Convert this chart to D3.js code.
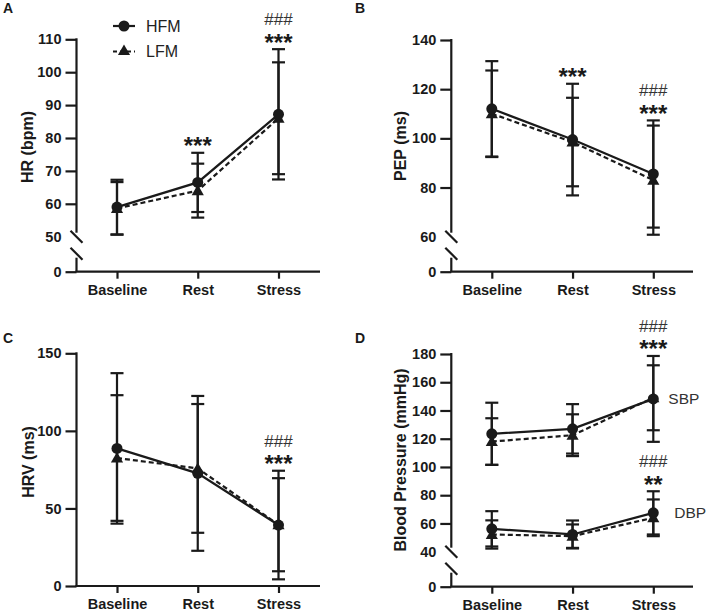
<!DOCTYPE html>
<html><head><meta charset="utf-8">
<script src="https://cdn.jsdelivr.net/npm/d3@7"></script>
<style>
body{margin:0;background:#fff;}
svg{display:block;font-family:"Liberation Sans",Arial,sans-serif;}
</style></head>
<body><svg id="c" width="706" height="615"></svg>
<script>
// ---- data ----
const categories = ["Baseline", "Rest", "Stress"];
const seriesNames = ["HFM", "LFM"];

const hrTicks = [50, 60, 70, 80, 90, 100, 110];
const hrHFM = [59, 66.5, 87.2];
const hrHFMsd = [8.3, 9, 19.8];
const hrLFM = [58.6, 64, 86];
const hrLFMsd = [8, 8.2, 17];
const hrStars = ["", "***", "***"];
const hrHash = ["", "", "###"];

const pepTicks = [60, 80, 100, 120, 140];
const pepHFM = [112, 99.5, 85.5];
const pepHFMsd = [19.4, 22.7, 21.8];
const pepLFM = [110, 98.5, 83];
const pepLFMsd = [17.6, 18, 22.2];
const pepStars = ["", "***", "***"];
const pepHash = ["", "", "###"];

const hrvTicks = [0, 50, 100, 150];
const hrvHFM = [88.7, 72.6, 39.3];
const hrvHFMsd = [48.5, 49.9, 35];
const hrvLFM = [82.5, 75.8, 39.5];
const hrvLFMsd = [40.5, 41.5, 30];
const hrvStars = ["", "", "***"];
const hrvHash = ["", "", "###"];

const bpTicks = [40, 60, 80, 100, 120, 140, 160, 180];
const sbpHFM = [123.5, 127, 148.2];
const sbpHFMsd = [22, 17.5, 30.4];
const sbpLFM = [118, 122.5, 149];
const sbpLFMsd = [16.5, 14.8, 23];
const sbpStars = ["", "", "***"];
const sbpHash = ["", "", "###"];
const dbpHFM = [56.2, 52.2, 67.5];
const dbpHFMsd = [12.5, 9.9, 15.3];
const dbpLFM = [52.2, 51, 64];
const dbpLFMsd = [10, 8.3, 13];
const dbpStars = ["", "", "**"];
const dbpHash = ["", "", "###"];

// ---- drawing ----
const svg = d3.select("#c");
const INK = "#1a1a1a";
const SW = 2.2;
const FONT = "Liberation Sans, Arial, sans-serif";
const tri = d3.symbol().type(d3.symbolTriangle).size(64);

function styleAxis(sel) {
  sel.select(".domain").remove();
  sel.selectAll("text").attr("font-size", 14.5).attr("font-weight", "bold").attr("fill", INK).attr("font-family", FONT);
  sel.selectAll("line").attr("stroke", INK).attr("stroke-width", SW);
}

function panel(cfg) {
  const g = svg.append("g");
  const x = d3.scalePoint().domain(categories).range([cfg.ax + 40.5, cfg.ax + 202]);
  const y = d3.scaleLinear().domain([cfg.ticks[0], cfg.ticks[cfg.ticks.length - 1]])
    .range([cfg.brk ? cfg.zero - 35 : cfg.zero, cfg.top]);

  const ya = g.append("g").attr("transform", `translate(${cfg.ax},0)`)
    .call(d3.axisLeft(y).tickValues(cfg.ticks).tickSize(11).tickPadding(4).tickSizeOuter(0).tickFormat(d3.format("d")));
  styleAxis(ya);
  if (cfg.brk) {
    ya.selectAll(".tick").filter(d => d === cfg.ticks[0]).select("line").remove();
    const yl = d3.scaleLinear().domain([0, 1]).range([cfg.zero, cfg.zero - 18]);
    const yb = g.append("g").attr("transform", `translate(${cfg.ax},0)`)
      .call(d3.axisLeft(yl).tickValues([0]).tickSize(11).tickPadding(4).tickSizeOuter(0).tickFormat(d3.format("d")));
    styleAxis(yb);
    const up = cfg.zero - 35, lo = cfg.zero - 18;
    g.append("line").attr("x1", cfg.ax).attr("x2", cfg.ax).attr("y1", cfg.top - 1).attr("y2", up - 4)
      .attr("stroke", INK).attr("stroke-width", SW);
    g.append("line").attr("x1", cfg.ax).attr("x2", cfg.ax).attr("y1", lo + 4).attr("y2", cfg.zero)
      .attr("stroke", INK).attr("stroke-width", SW);
    [up, lo].forEach(c => g.append("line").attr("x1", cfg.ax - 6).attr("y1", c - 6).attr("x2", cfg.ax + 6).attr("y2", c + 6)
      .attr("stroke", INK).attr("stroke-width", SW));
  } else {
    g.append("line").attr("x1", cfg.ax).attr("x2", cfg.ax).attr("y1", cfg.top - 1).attr("y2", cfg.zero)
      .attr("stroke", INK).attr("stroke-width", SW);
  }

  const xa = g.append("g").attr("transform", `translate(0,${cfg.zero})`)
    .call(d3.axisBottom(x).tickSize(7).tickPadding(6).tickSizeOuter(0));
  styleAxis(xa);
  g.append("line").attr("x1", cfg.ax - 1).attr("x2", cfg.xEnd).attr("y1", cfg.zero).attr("y2", cfg.zero)
    .attr("stroke", INK).attr("stroke-width", SW);

  g.append("text").attr("transform", `translate(${cfg.tx},${cfg.ty}) rotate(-90)`)
    .attr("text-anchor", "middle").attr("dy", "0.35em").attr("font-size", 16).attr("font-weight", "bold")
    .attr("fill", INK).text(cfg.title);

  g.append("text").attr("x", cfg.lx).attr("y", cfg.ly).attr("font-size", 14).attr("font-weight", "bold")
    .attr("fill", INK).text(cfg.letter);

  cfg.groups.forEach(gr => {
    const sets = [
      { m: gr.h, s: gr.hs, dash: null, mk: "circle" },
      { m: gr.l, s: gr.ls, dash: "5,3", mk: "tri" }
    ];
    sets.forEach(st => {
      categories.forEach((c, i) => {
        const cx = x(c), t = y(st.m[i] + st.s[i]), b = y(st.m[i] - st.s[i]);
        g.append("line").attr("x1", cx).attr("x2", cx).attr("y1", t).attr("y2", b).attr("stroke", INK).attr("stroke-width", SW);
        [t, b].forEach(yy => g.append("line").attr("x1", cx - 6.5).attr("x2", cx + 6.5).attr("y1", yy).attr("y2", yy)
          .attr("stroke", INK).attr("stroke-width", SW));
      });
    });
    sets.slice().reverse().forEach(st => {
      const ln = d3.line().x((d, i) => x(categories[i])).y(d => y(d));
      g.append("path").attr("d", ln(st.m)).attr("fill", "none").attr("stroke", INK).attr("stroke-width", SW)
        .attr("stroke-dasharray", st.dash);
    });
    sets.slice().reverse().forEach(st => {
      categories.forEach((c, i) => {
        if (st.mk === "circle") g.append("circle").attr("cx", x(c)).attr("cy", y(st.m[i])).attr("r", 5.5).attr("fill", INK);
        else g.append("path").attr("d", tri).attr("transform", `translate(${x(c)},${y(st.m[i]) + 1})`).attr("fill", INK);
      });
    });
    categories.forEach((c, i) => {
      if (!gr.stars[i] && !gr.hash[i]) return;
      const top = Math.min(y(gr.h[i] + gr.hs[i]), y(gr.l[i] + gr.ls[i]));
      const sc = top - 12;
      if (gr.stars[i]) g.append("text").attr("x", x(c)).attr("y", sc + 13.5).attr("text-anchor", "middle")
        .attr("font-size", 24).attr("font-weight", "bold").attr("fill", INK).text(gr.stars[i]);
      if (gr.hash[i]) g.append("text").attr("x", x(c)).attr("y", sc - 18 + 6).attr("text-anchor", "middle")
        .attr("font-size", 17).attr("fill", "#333").text(gr.hash[i]);
    });
    if (gr.label) {
      g.append("text").attr("x", x("Stress") + gr.labelDx).attr("y", y(gr.h[2])).attr("dy", "0.35em")
        .attr("font-size", 15.5).attr("fill", "#333").text(gr.label);
    }
  });
  return { x, y, g };
}

panel({ ax: 76.5, zero: 271.7, top: 39.3, xEnd: 320, brk: true, ticks: hrTicks, title: "HR (bpm)", tx: 27.5, ty: 147,
  letter: "A", lx: 3, ly: 13,
  groups: [{ h: hrHFM, hs: hrHFMsd, l: hrLFM, ls: hrLFMsd, stars: hrStars, hash: hrHash }] });
panel({ ax: 451.3, zero: 271.7, top: 40, xEnd: 693, brk: true, ticks: pepTicks, title: "PEP (ms)", tx: 400, ty: 146,
  letter: "B", lx: 355, ly: 13,
  groups: [{ h: pepHFM, hs: pepHFMsd, l: pepLFM, ls: pepLFMsd, stars: pepStars, hash: pepHash }] });
panel({ ax: 76.5, zero: 586, top: 353.3, xEnd: 320, brk: false, ticks: hrvTicks, title: "HRV (ms)", tx: 28.5, ty: 462,
  letter: "C", lx: 3, ly: 343,
  groups: [{ h: hrvHFM, hs: hrvHFMsd, l: hrvLFM, ls: hrvLFMsd, stars: hrvStars, hash: hrvHash }] });
panel({ ax: 451.3, zero: 586.7, top: 354, xEnd: 693, brk: true, ticks: bpTicks, title: "Blood Pressure (mmHg)", tx: 400, ty: 460,
  letter: "D", lx: 355, ly: 343,
  groups: [
    { h: sbpHFM, hs: sbpHFMsd, l: sbpLFM, ls: sbpLFMsd, stars: sbpStars, hash: sbpHash, label: "SBP", labelDx: 15 },
    { h: dbpHFM, hs: dbpHFMsd, l: dbpLFM, ls: dbpLFMsd, stars: dbpStars, hash: dbpHash, label: "DBP", labelDx: 21 }
  ] });

// legend (panel A)
const leg = svg.append("g");
seriesNames.forEach((n, i) => {
  const yy = 26 + i * 25.5;
  leg.append("line").attr("x1", 113).attr("x2", 135).attr("y1", yy).attr("y2", yy).attr("stroke", INK).attr("stroke-width", SW)
    .attr("stroke-dasharray", i ? "4,3" : null);
  if (i === 0) leg.append("circle").attr("cx", 124).attr("cy", yy).attr("r", 5.5).attr("fill", INK);
  else leg.append("path").attr("d", tri).attr("transform", `translate(124,${yy})`).attr("fill", INK);
  leg.append("text").attr("x", 146).attr("y", yy).attr("dy", "0.35em").attr("font-size", 16).attr("fill", "#222").text(n);
});
</script></body></html>
